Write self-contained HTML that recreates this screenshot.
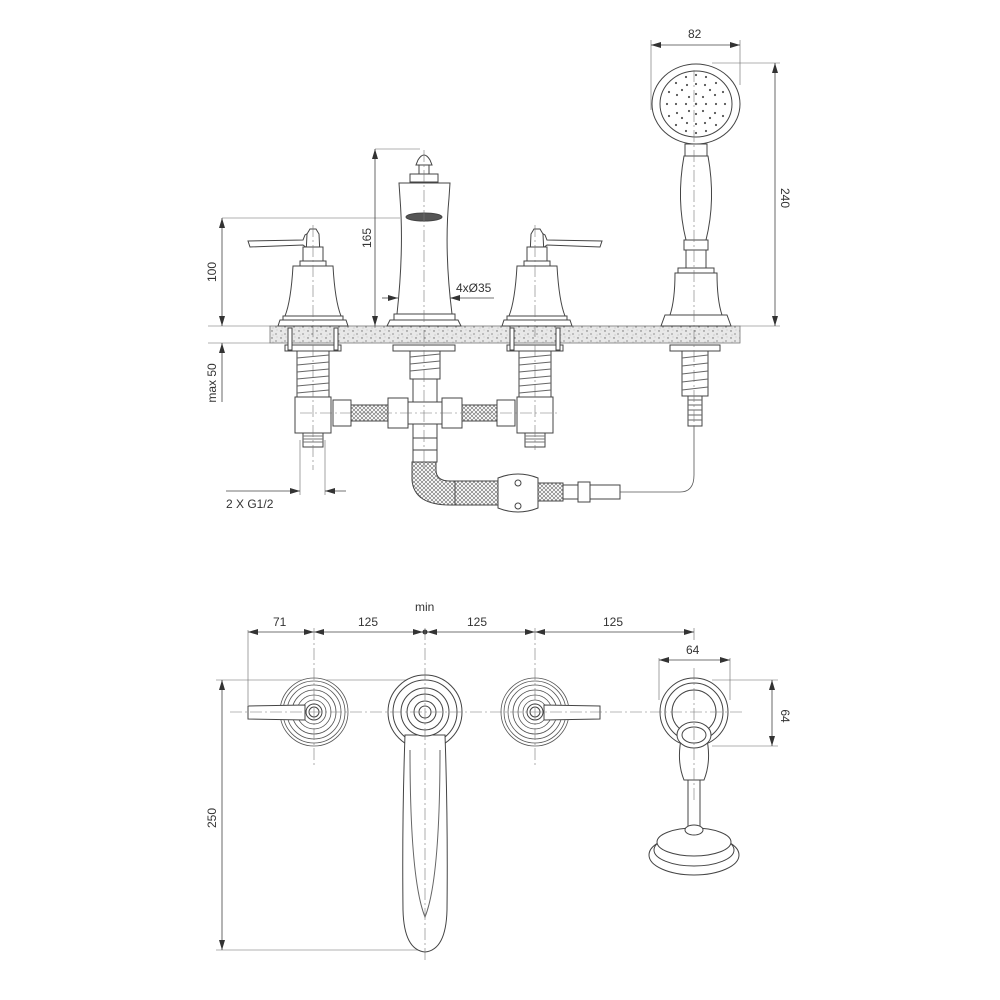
<!DOCTYPE html>
<html><head><meta charset="utf-8"><style>
html,body{margin:0;padding:0;background:#fff}
svg{display:block}
text{font-family:"Liberation Sans",sans-serif;font-size:12px;fill:#333}
</style></head><body>
<svg width="1000" height="1000" viewBox="0 0 1000 1000" xmlns="http://www.w3.org/2000/svg">
<defs>
<pattern id="sp" width="9" height="7" patternUnits="userSpaceOnUse">
<rect width="9" height="7" fill="#e8e8e8"/>
<circle cx="2" cy="2" r="0.7" fill="#666"/><circle cx="6" cy="5" r="0.6" fill="#555"/><circle cx="7" cy="1" r="0.4" fill="#888"/><circle cx="3" cy="6" r="0.4" fill="#777"/>
</pattern>
<pattern id="mesh" width="4" height="4" patternUnits="userSpaceOnUse">
<rect width="4" height="4" fill="#fff"/><path d="M0 0L4 4M4 0L0 4" stroke="#666" stroke-width="0.6"/>
</pattern>
<marker id="a" markerWidth="10" markerHeight="6" refX="10" refY="3" orient="auto-start-reverse" markerUnits="userSpaceOnUse"><path d="M0 0L10 3L0 6z" fill="#333"/></marker>
<g id="valve" fill="#fff" stroke="#444" stroke-width="1">
<path d="M-65 0 L-10 -1 L-8 -6 L-1 -10 L-1 6 L-6 7 L-10 4 L-63 6 Z"/>
<path d="M-6 -7 L-3 -12 L3 -12 L6 -7 L7 14 L-7 14 Z"/>
<rect x="-10" y="6" width="20" height="14"/>
<rect x="-13" y="20" width="26" height="5"/>
<path d="M-20 25 L20 25 Q22 60 28 75 L-28 75 Q-22 60 -20 25Z"/>
<rect x="-30" y="75" width="60" height="4"/>
<path d="M-33 79 L33 79 L35 85 L-35 85Z"/>
</g>
<g id="under" fill="#fff" stroke="#444" stroke-width="1">
<rect x="-28" y="2" width="56" height="6"/>
<rect x="-25" y="-15" width="4" height="22"/><rect x="21" y="-15" width="4" height="22"/>
<rect x="-16" y="8" width="32" height="46"/>
<path d="M-16 15L16 12M-16 22L16 19M-16 29L16 26M-16 36L16 33M-16 43L16 40M-16 50L16 47" stroke="#666"/>
<rect x="-18" y="54" width="36" height="36"/>
<rect x="-10" y="90" width="20" height="14"/>
<path d="M-10 93H10M-10 96H10M-10 99H10" stroke="#777"/>
</g>
<g id="ros" fill="#fff" stroke="#555" stroke-width="0.8">
<circle r="34"/><circle r="31"/><circle r="27"/><circle r="22"/><circle r="17"/><circle r="12"/>
</g>
</defs>

<g fill="none" stroke="#444" stroke-width="0.8">
<rect x="270" y="326" width="470" height="17" fill="url(#sp)" stroke="#777"/>
<line x1="222" y1="218" x2="400" y2="218" stroke="#666" stroke-width="0.6"/>
<line x1="208" y1="326" x2="270" y2="326" stroke="#666" stroke-width="0.6"/>
<line x1="208" y1="343" x2="270" y2="343" stroke="#666" stroke-width="0.6"/>
<line x1="222" y1="218" x2="222" y2="326" marker-start="url(#a)" marker-end="url(#a)"/>
<line x1="222" y1="343" x2="222" y2="402" marker-start="url(#a)"/>
<line x1="375" y1="149" x2="420" y2="149" stroke="#666" stroke-width="0.6"/>
<line x1="375" y1="149" x2="375" y2="326" marker-start="url(#a)" marker-end="url(#a)"/>
<line x1="382" y1="298" x2="398" y2="298" marker-end="url(#a)"/>
<line x1="450" y1="298" x2="494" y2="298" marker-start="url(#a)"/>
<line x1="651" y1="40" x2="651" y2="110" stroke="#666" stroke-width="0.6"/>
<line x1="740" y1="40" x2="740" y2="85" stroke="#666" stroke-width="0.6"/>
<line x1="651" y1="45" x2="740" y2="45" marker-start="url(#a)" marker-end="url(#a)"/>
<line x1="712" y1="63" x2="780" y2="63" stroke="#666" stroke-width="0.6"/>
<line x1="740" y1="326" x2="780" y2="326" stroke="#666" stroke-width="0.6"/>
<line x1="775" y1="63" x2="775" y2="326" marker-start="url(#a)" marker-end="url(#a)"/>
<line x1="300" y1="440" x2="300" y2="495" stroke="#666" stroke-width="0.6"/>
<line x1="325" y1="440" x2="325" y2="495" stroke="#666" stroke-width="0.6"/>
<line x1="226" y1="491" x2="300" y2="491" marker-end="url(#a)"/>
<line x1="325" y1="491" x2="346" y2="491" marker-start="url(#a)"/>
</g>
<text text-anchor="middle" transform="translate(216 272) rotate(-90)">100</text>
<text text-anchor="middle" transform="translate(371 238) rotate(-90)">165</text>
<text text-anchor="middle" transform="translate(216 383) rotate(-90)">max 50</text>
<text x="456" y="292">4xØ35</text>
<text x="688" y="38">82</text>
<text text-anchor="middle" transform="translate(781 198) rotate(90)">240</text>
<text x="226" y="508">2 X G1/2</text>

<use href="#valve" x="313" y="241"/>
<g transform="translate(537 241) scale(-1 1)"><use href="#valve"/></g>
<use href="#under" x="313" y="343"/>
<use href="#under" x="535" y="343"/>
<g fill="#fff" stroke="#444" stroke-width="1">
<path d="M418 160 Q424 150 430 160 L432 165 L416 165Z"/>
<rect x="419" y="165" width="10" height="9"/>
<rect x="410" y="174" width="28" height="8"/>
<path d="M399 183 L450 183 L449 198 Q444 250 452 314 L397 314 Q404 250 400 198Z"/>
<ellipse cx="424" cy="217" rx="18" ry="4" fill="#555"/>
<rect x="394" y="314" width="61" height="6"/>
<path d="M390 320 L458 320 L461 326 L387 326Z"/>
<rect x="393" y="345" width="62" height="6"/>
<rect x="410" y="351" width="30" height="28"/>
<path d="M410 357L440 354M410 364L440 361M410 371L440 368" stroke="#666"/>
<rect x="413" y="379" width="24" height="60"/>
<rect x="335" y="405" width="180" height="16" fill="url(#mesh)"/>
<rect x="333" y="400" width="18" height="26"/><rect x="388" y="398" width="20" height="30"/>
<rect x="442" y="398" width="20" height="30"/><rect x="497" y="400" width="18" height="26"/>
<rect x="408" y="402" width="34" height="22"/>
<rect x="413" y="438" width="24" height="12"/><rect x="413" y="450" width="24" height="12"/>
<path d="M412 462 L412 480 Q414 505 450 505 L500 505 L500 481 L450 481 Q436 481 436 470 L436 462Z" fill="url(#mesh)"/>
<rect x="455" y="481" width="45" height="24" fill="url(#mesh)"/>
<path d="M498 478 Q518 470 538 478 L538 508 Q518 516 498 508Z"/>
<rect x="538" y="483" width="25" height="18" fill="url(#mesh)"/>
<rect x="563" y="485" width="15" height="14"/><rect x="578" y="482" width="12" height="20"/>
<rect x="590" y="485" width="30" height="14"/>
<circle cx="518" cy="483" r="3"/><circle cx="518" cy="506" r="3"/>
</g>
<path d="M620 492 L680 492 Q694 492 694 475 L694 425" fill="none" stroke="#555" stroke-width="0.8"/>
<g fill="#fff" stroke="#444" stroke-width="1">
<ellipse cx="696" cy="104" rx="44" ry="40"/>
<ellipse cx="696" cy="104" rx="36" ry="33"/>
<rect x="685" y="144" width="22" height="12"/>
<path d="M684 156 Q676 200 686 240 L706 240 Q716 200 708 156Z"/>
<rect x="684" y="240" width="24" height="10"/>
<rect x="686" y="250" width="20" height="18"/>
<rect x="678" y="268" width="36" height="5"/>
<path d="M675 273 L717 273 Q717 300 722 315 L670 315 Q675 300 675 273Z"/>
<path d="M665 315 L727 315 L731 326 L661 326Z"/>
<rect x="670" y="345" width="50" height="6"/>
<rect x="682" y="351" width="26" height="45"/>
<path d="M682 358L708 355M682 366L708 363M682 374L708 371M682 382L708 379M682 390L708 387" stroke="#666"/>
<rect x="688" y="396" width="14" height="30"/>
<path d="M688 400H702M688 405H702M688 410H702M688 415H702M688 420H702" stroke="#666"/>
</g>
<g fill="#555">
<circle cx="696" cy="104" r="1.2"/>
<circle cx="696" cy="94" r="1.1"/><circle cx="706" cy="104" r="1.1"/><circle cx="696" cy="114" r="1.1"/><circle cx="686" cy="104" r="1.1"/>
<circle cx="703" cy="97" r="1.1"/><circle cx="689" cy="111" r="1.1"/><circle cx="703" cy="111" r="1.1"/><circle cx="689" cy="97" r="1.1"/>
<circle cx="696" cy="84" r="1.1"/><circle cx="716" cy="104" r="1.1"/><circle cx="696" cy="124" r="1.1"/><circle cx="676" cy="104" r="1.1"/>
<circle cx="710" cy="90" r="1.1"/><circle cx="682" cy="118" r="1.1"/><circle cx="710" cy="118" r="1.1"/><circle cx="682" cy="90" r="1.1"/>
<circle cx="705" cy="85" r="1.1"/><circle cx="687" cy="85" r="1.1"/><circle cx="715" cy="95" r="1.1"/><circle cx="715" cy="113" r="1.1"/>
<circle cx="705" cy="123" r="1.1"/><circle cx="687" cy="123" r="1.1"/><circle cx="677" cy="113" r="1.1"/><circle cx="677" cy="95" r="1.1"/>
<circle cx="696" cy="75" r="1.1"/><circle cx="725" cy="104" r="1.1"/><circle cx="696" cy="133" r="1.1"/><circle cx="667" cy="104" r="1.1"/>
<circle cx="716" cy="83" r="1.1"/><circle cx="676" cy="83" r="1.1"/><circle cx="716" cy="125" r="1.1"/><circle cx="676" cy="125" r="1.1"/>
<circle cx="706" cy="77" r="1.1"/><circle cx="686" cy="77" r="1.1"/><circle cx="723" cy="92" r="1.1"/><circle cx="723" cy="116" r="1.1"/>
<circle cx="706" cy="131" r="1.1"/><circle cx="686" cy="131" r="1.1"/><circle cx="669" cy="92" r="1.1"/><circle cx="669" cy="116" r="1.1"/>
</g>
<g stroke="#777" stroke-width="0.6" stroke-dasharray="12 3 2 3">
<line x1="313" y1="225" x2="313" y2="470"/><line x1="535" y1="225" x2="535" y2="450"/>
<line x1="424" y1="150" x2="424" y2="470"/><line x1="694" y1="70" x2="694" y2="430"/>
<line x1="300" y1="413" x2="560" y2="413"/>
</g>

<g fill="none" stroke="#444" stroke-width="0.8">
<line x1="248" y1="632" x2="314" y2="632" marker-start="url(#a)" marker-end="url(#a)"/>
<line x1="314" y1="632" x2="423" y2="632" marker-start="url(#a)" marker-end="url(#a)"/>
<line x1="427" y1="632" x2="535" y2="632" marker-start="url(#a)" marker-end="url(#a)"/>
<line x1="535" y1="632" x2="694" y2="632" marker-start="url(#a)" marker-end="url(#a)"/>
<line x1="248" y1="630" x2="248" y2="705" stroke="#666" stroke-width="0.6"/>
<line x1="694" y1="628" x2="694" y2="640" stroke="#666" stroke-width="0.6"/>
<line x1="659" y1="658" x2="659" y2="700" stroke="#666" stroke-width="0.6"/>
<line x1="730" y1="658" x2="730" y2="700" stroke="#666" stroke-width="0.6"/>
<line x1="659" y1="660" x2="730" y2="660" marker-start="url(#a)" marker-end="url(#a)"/>
<line x1="712" y1="680" x2="778" y2="680" stroke="#666" stroke-width="0.6"/>
<line x1="712" y1="746" x2="778" y2="746" stroke="#666" stroke-width="0.6"/>
<line x1="772" y1="680" x2="772" y2="746" marker-start="url(#a)" marker-end="url(#a)"/>
<line x1="216" y1="680" x2="420" y2="680" stroke="#666" stroke-width="0.6"/>
<line x1="216" y1="950" x2="418" y2="950" stroke="#666" stroke-width="0.6"/>
<line x1="222" y1="680" x2="222" y2="950" marker-start="url(#a)" marker-end="url(#a)"/>
</g>
<circle cx="425" cy="632" r="2.5" fill="#333"/>
<text x="415" y="611">min</text>
<text x="273" y="626">71</text>
<text x="358" y="626">125</text>
<text x="467" y="626">125</text>
<text x="603" y="626">125</text>
<text x="686" y="654">64</text>
<text text-anchor="middle" transform="translate(781 716) rotate(90)">64</text>
<text text-anchor="middle" transform="translate(216 818) rotate(-90)">250</text>

<use href="#ros" x="314" y="712"/>
<use href="#ros" x="535" y="712"/>
<g fill="#fff" stroke="#444" stroke-width="1">
<path d="M248 706 L305 705 L305 720 L248 719Z"/>
<circle cx="314" cy="712" r="8"/><circle cx="314" cy="712" r="5"/>
<path d="M600 706 L544 705 L544 720 L600 719Z"/>
<circle cx="535" cy="712" r="8"/><circle cx="535" cy="712" r="5"/>
<circle cx="425" cy="712" r="37"/><circle cx="425" cy="712" r="32"/>
<path d="M405 735 Q402 820 403 910 Q404 950 425 952 Q446 950 447 910 Q448 820 445 735Z"/>
<path d="M410 750 Q410 880 425 917 Q440 880 440 750" stroke="#666"/>
<circle cx="425" cy="712" r="24"/><circle cx="425" cy="712" r="18"/>
<circle cx="425" cy="712" r="11"/><circle cx="425" cy="712" r="6"/>
<circle cx="694" cy="712" r="34"/><circle cx="694" cy="712" r="29"/><circle cx="694" cy="712" r="22"/>
<ellipse cx="694" cy="855" rx="45" ry="20"/>
<ellipse cx="694" cy="850" rx="40" ry="16"/>
<ellipse cx="694" cy="842" rx="37" ry="14"/>
<rect x="688" y="780" width="12" height="52"/>
<ellipse cx="694" cy="830" rx="9" ry="5"/>
<path d="M682 735 L706 735 Q712 760 704 780 L684 780 Q676 760 682 735Z"/>
<ellipse cx="694" cy="735" rx="17" ry="13"/><ellipse cx="694" cy="735" rx="12" ry="8"/>
</g>
<g stroke="#777" stroke-width="0.6" stroke-dasharray="12 3 2 3">
<line x1="230" y1="712" x2="745" y2="712"/>
<line x1="314" y1="628" x2="314" y2="765"/><line x1="535" y1="628" x2="535" y2="765"/>
<line x1="425" y1="628" x2="425" y2="960"/><line x1="694" y1="668" x2="694" y2="800"/>
</g>
</svg>
</body></html>
